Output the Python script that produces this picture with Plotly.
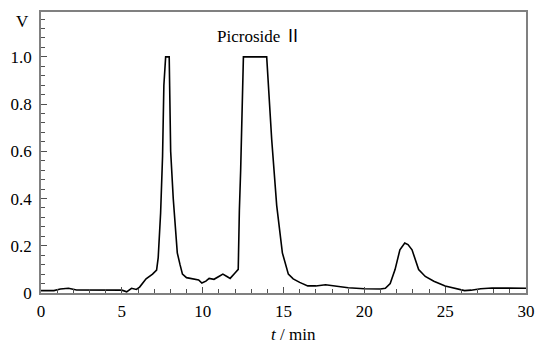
import plotly.graph_objects as go

# Chromatogram
time_min = [0, 0.8, 1.2, 1.7, 2.2, 3, 4, 5.0, 5.3, 5.6, 5.9, 6.1, 6.5, 6.9, 7.15, 7.25, 7.4,
            7.52, 7.6, 7.71, 7.93, 8.02, 8.18, 8.43, 8.6, 8.75, 9.0, 9.4, 9.75, 9.95, 10.2,
            10.4, 10.7, 11.0, 11.25, 11.5, 11.7, 12.0, 12.2, 12.27, 12.35, 12.52, 13.96,
            14.27, 14.58, 14.93, 15.15, 15.3, 15.6, 16.0, 16.5, 17.0, 17.6, 18.2, 19.0, 20,
            21.0, 21.3, 21.6, 21.9, 22.2, 22.5, 22.7, 22.95, 23.36, 23.77, 24.3, 25.0, 25.6,
            26.2, 26.6, 27.2, 27.9, 29, 30]
signal_v = [0.01, 0.01, 0.017, 0.02, 0.013, 0.012, 0.012, 0.012, 0.005, 0.02, 0.015, 0.025,
            0.06, 0.08, 0.097, 0.15, 0.34, 0.58, 0.88, 1.0, 1.0, 0.6, 0.4, 0.17, 0.12, 0.08,
            0.065, 0.06, 0.055, 0.042, 0.05, 0.062, 0.058, 0.07, 0.08, 0.07, 0.062, 0.085,
            0.1, 0.35, 0.52, 1.0, 1.0, 0.65, 0.37, 0.17, 0.11, 0.08, 0.06, 0.045, 0.03, 0.03,
            0.035, 0.03, 0.022, 0.018, 0.017, 0.02, 0.04, 0.099, 0.183, 0.212, 0.205, 0.183,
            0.099, 0.07, 0.05, 0.03, 0.02, 0.01, 0.012, 0.018, 0.021, 0.02, 0.02]

x_ticks = [0, 5, 10, 15, 20, 25, 30]
y_ticks = [0, 0.2, 0.4, 0.6, 0.8, 1.0]
y_tick_text = ["0", "0.2", "0.4", "0.6", "0.8", "1.0"]

FONT = "Liberation Serif"

fig = go.Figure()
fig.add_trace(go.Scatter(x=time_min, y=signal_v, mode="lines",
                         line=dict(color="black", width=1.6), showlegend=False))

axis_common = dict(showline=True, linecolor="#808080", linewidth=1.5, mirror=True,
                   showgrid=False, zeroline=False, ticks="inside", ticklen=6,
                   tickwidth=1, tickcolor="#505050", automargin=False,
                   tickfont=dict(family=FONT, size=17, color="black"))

fig.update_xaxes(range=[0, 30], tickvals=x_ticks, ticklabelstandoff=2,
                 minor=dict(dtick=1, ticks="inside", ticklen=4, tickcolor="#505050"),
                 **axis_common)
fig.update_yaxes(range=[0, 1.19], tickvals=y_ticks, ticktext=y_tick_text,
                 ticklabelstandoff=4,
                 minor=dict(dtick=0.04, ticks="inside", ticklen=4, tickcolor="#505050"),
                 **axis_common)

fig.add_annotation(text="Picroside <span style='font-family:Noto Sans CJK SC'>Ⅱ</span>",
                   x=10.76, y=1.095, xref="x", yref="y", xanchor="left",
                   showarrow=False, font=dict(family=FONT, size=17, color="black"))
fig.add_annotation(text="V", x=0, y=1.15, xref="paper", yref="y", xanchor="right",
                   xshift=-10, showarrow=False, font=dict(family=FONT, size=17, color="black"))
fig.add_annotation(text="<i>t</i> / min", x=15.6, y=0, xref="x", yref="paper",
                   yanchor="top", yshift=-30, showarrow=False,
                   font=dict(family=FONT, size=17, color="black"))

fig.update_layout(width=535, height=343, margin=dict(l=41, r=9, t=12, b=50),
                  font=dict(family=FONT, size=17, color="black"),
                  paper_bgcolor="white", plot_bgcolor="white")

fig.write_html("out.html", config={"displayModeBar": False},
               post_script="document.body.style.margin='0';document.body.style.overflow='hidden';")
